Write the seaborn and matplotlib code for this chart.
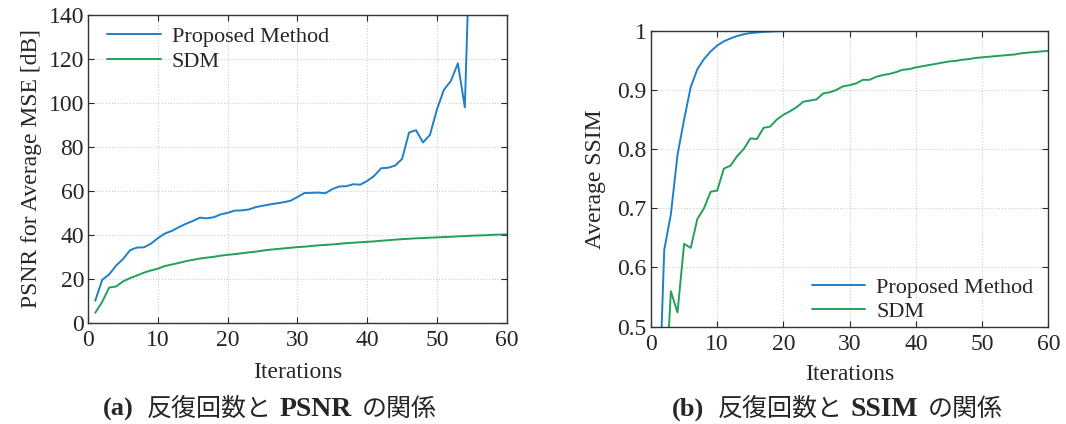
import numpy as np
import pandas as pd
import seaborn as sns
import matplotlib.pyplot as plt

# iterations
iters_psnr = list(range(1, 56))
iters_sdm = list(range(1, 61))

# PSNR [dB] - proposed method (diverges after ~54 iterations)
psnr_proposed = [10, 19.5, 22, 26, 29, 33, 34.2, 34.3, 36, 38.5,
                 40.6, 41.8, 43.5, 45, 46.3, 47.8, 47.5, 48, 49.3, 50,
                 51, 51.1, 51.5, 52.6, 53.2, 53.8, 54.3, 54.8, 55.5, 57.2,
                 59, 59.1, 59.2, 58.9, 60.8, 62, 62.1, 63, 62.8, 64.5,
                 66.8, 70.3, 70.5, 71.5, 74.5, 86.5, 87.6, 82, 85.5, 97,
                 106, 110, 118, 98, 203]
# PSNR [dB] - SDM
psnr_sdm = [4.5, 9.5, 16, 16.5, 18.8, 20.3, 21.5, 22.8, 23.8, 24.6,
            25.8, 26.5, 27.2, 28, 28.6, 29.2, 29.6, 30, 30.5, 30.9,
            31.2, 31.6, 32, 32.3, 32.8, 33.2, 33.5, 33.8, 34.1, 34.4,
            34.6, 34.9, 35.2, 35.4, 35.6, 35.9, 36.2, 36.4, 36.6, 36.8,
            37, 37.3, 37.5, 37.8, 38, 38.2, 38.4, 38.5, 38.7, 38.8,
            39, 39.1, 39.3, 39.4, 39.6, 39.7, 39.8, 40, 40.1, 40.2]

# SSIM - proposed method
ssim_proposed = [0.30, 0.63, 0.69, 0.79, 0.85, 0.905, 0.935, 0.952, 0.965, 0.975,
                 0.982, 0.987, 0.991, 0.994, 0.996, 0.997, 0.998, 0.9985, 0.999, 0.9993,
                 0.9995, 0.9996, 0.9997, 0.9997, 0.9998, 0.9998, 0.9998, 0.9999, 0.9999, 0.9999,
                 0.9999, 0.9999, 0.9999, 1.0, 1.0, 1.0, 1.0, 1.0, 1.0, 1.0,
                 1.0, 1.0, 1.0, 1.0, 1.0, 1.0, 1.0, 1.0, 1.0, 1.0,
                 1.0, 1.0, 1.0, 1.0, 1.0, 1.0, 1.0, 1.0, 1.0, 1.0]
# SSIM - SDM
ssim_sdm = [0.20, 0.35, 0.56, 0.524, 0.64, 0.633, 0.682, 0.70, 0.728, 0.73,
            0.767, 0.772, 0.788, 0.80, 0.818, 0.817, 0.836, 0.838, 0.85, 0.858,
            0.864, 0.871, 0.88, 0.882, 0.884, 0.894, 0.896, 0.90, 0.906, 0.908,
            0.911, 0.917, 0.917, 0.922, 0.925, 0.927, 0.930, 0.934, 0.935, 0.938,
            0.940, 0.942, 0.944, 0.946, 0.948, 0.949, 0.951, 0.952, 0.954, 0.955,
            0.956, 0.957, 0.958, 0.959, 0.960, 0.962, 0.963, 0.964, 0.965, 0.966]

labels = ["Proposed Method", "SDM"]
colors = ["#1f7fc8", "#22a05a"]
# caption pieces: (text, is_latin_bold)
caption_a = [("(a)", True), ("反復回数と", False), ("PSNR", True), ("の関係", False)]
caption_b = [("(b)", True), ("反復回数と", False), ("SSIM", True), ("の関係", False)]

sns.set_style("ticks")
plt.rcParams['font.family'] = ['Liberation Serif', 'DejaVu Serif']

FS = 17

fig = plt.figure(figsize=(10.66, 4.24), dpi=100)
ax1 = fig.add_axes([0.0828, 0.2389, 0.3925, 0.7257])
ax2 = fig.add_axes([0.6107, 0.2295, 0.3727, 0.6981])

df1 = pd.concat([
    pd.DataFrame({"it": iters_psnr, "val": psnr_proposed, "method": labels[0]}),
    pd.DataFrame({"it": iters_sdm, "val": psnr_sdm, "method": labels[1]}),
])
df2 = pd.concat([
    pd.DataFrame({"it": iters_sdm, "val": ssim_proposed, "method": labels[0]}),
    pd.DataFrame({"it": iters_sdm, "val": ssim_sdm, "method": labels[1]}),
])

for ax, df in [(ax1, df1), (ax2, df2)]:
    sns.lineplot(data=df, x="it", y="val", hue="method", palette=colors,
                 linewidth=1.4, ax=ax)

ax1.set_xlim(0, 60)
ax1.set_ylim(0, 140)
ax1.set_yticks(range(0, 141, 20))
ax2.set_xlim(0, 60)
ax2.set_ylim(0.5, 1)
ax2.set_yticks([0.5, 0.6, 0.7, 0.8, 0.9, 1])
ax2.set_yticklabels(["0.5", "0.6", "0.7", "0.8", "0.9", "1"])

ax1.set_ylabel("PSNR for Average MSE [dB]", fontsize=FS, labelpad=5)
ax2.set_ylabel("Average SSIM", fontsize=FS, labelpad=8)

for ax, lp in [(ax1, 8), (ax2, 7)]:
    ax.set_xticks(range(0, 61, 10))
    ax.set_xlabel("Iterations", fontsize=FS, labelpad=lp)
    ax.tick_params(direction="in", top=True, right=True, length=4,
                   width=0.8, labelsize=FS)
    ax.tick_params(axis="x", pad=5)
    ax.tick_params(axis="y", pad=3)
    ax.grid(True, linestyle=":", color="#cccccc", linewidth=0.8)
    for s in ax.spines.values():
        s.set_linewidth(1.0)
        s.set_color("#333333")

ax1.legend(loc="upper left", bbox_to_anchor=(0.019, 1.0), frameon=False,
           fontsize=16, handlelength=2.4, borderaxespad=0.1,
           labelspacing=0.2, handletextpad=0.5)
ax2.legend(loc="lower right", bbox_to_anchor=(0.99, -0.02), frameon=False,
           fontsize=16, handlelength=2.4, borderaxespad=0.1,
           labelspacing=0.15, handletextpad=0.5)

# captions: bold serif latin parts, CJK parts in Noto Sans CJK JP
W, H = fig.get_size_inches() * fig.dpi
renderer = fig.canvas.get_renderer()


def draw_caption(x_left, y_base, parts):
    x = x_left
    gaps = [13, 8, 10, 0]
    for i, (txt, latin) in enumerate(parts):
        if latin:
            t = fig.text(x / W, 1 - y_base / H, txt, ha="left", va="baseline",
                         fontsize=20 if i else 19, fontweight="bold",
                         family=['Liberation Serif', 'DejaVu Serif'])
        else:
            t = fig.text(x / W, 1 - y_base / H, txt, ha="left", va="baseline",
                         fontsize=18, family=['Noto Sans CJK JP', 'DejaVu Sans'])
        bb = t.get_window_extent(renderer)
        x += bb.width + gaps[i]


draw_caption(103, 416, caption_a)
draw_caption(672, 416, caption_b)

fig.savefig("out.png", dpi=100)
